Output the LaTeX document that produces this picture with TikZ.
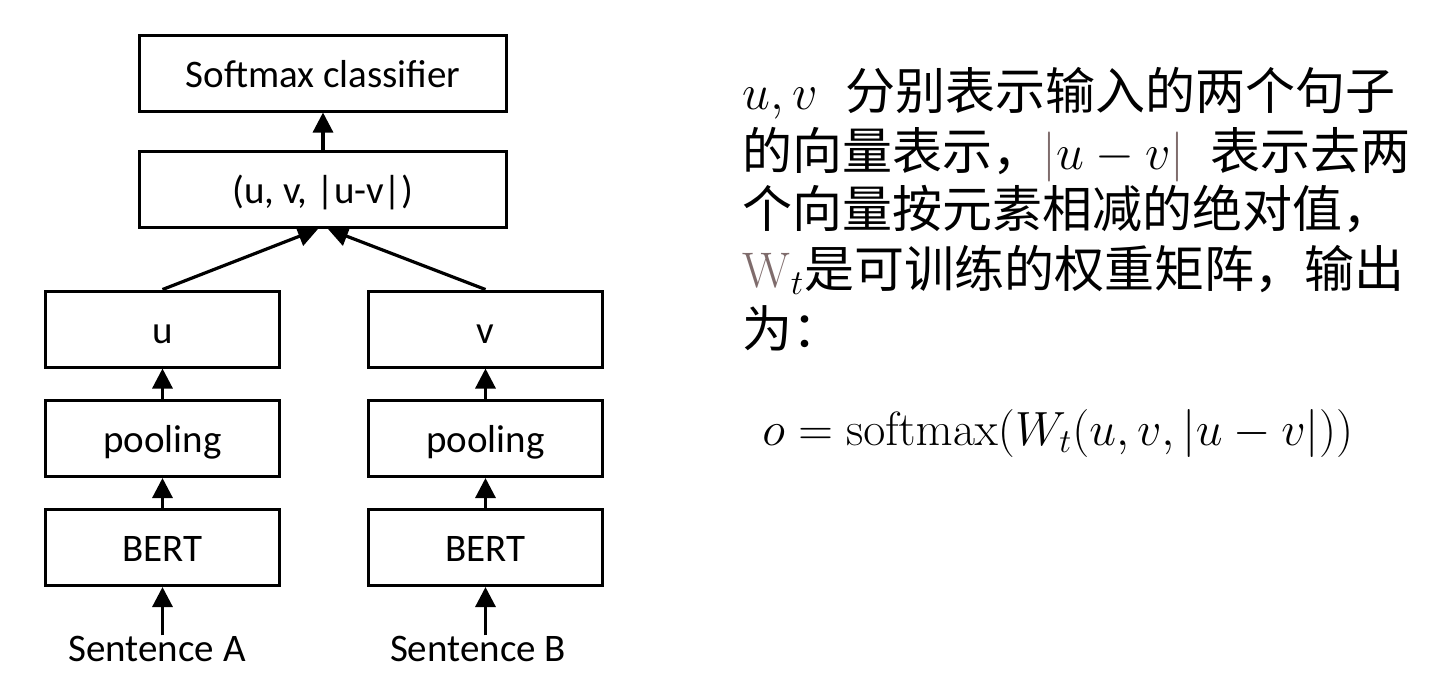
\RequirePackage{fix-cm}
\documentclass[tikz,border=0pt]{standalone}
\usepackage[no-math]{fontspec}
\setmainfont{Carlito}
\newfontfamily\cjk{Noto Sans CJK SC}
\usetikzlibrary{arrows.meta,calc}
\definecolor{ubrown}{RGB}{127,108,108}
\begin{document}
\begin{tikzpicture}[x=0.5pt,y=-0.5pt,
  box/.style={draw, line width=1.5pt, minimum width=117pt, minimum height=38pt, inner sep=0pt,
    font=\fontsize{19.5}{24}\selectfont, text height=14pt, text depth=0pt},
  wide/.style={box, minimum width=183.5pt},
  arr/.style={-{Triangle[length=10pt,width=10pt]}, line width=1.6pt},
  lbl/.style={font=\fontsize{19.5}{24}\selectfont, inner sep=0pt},
  cn/.style={anchor=base west, inner sep=0pt, font=\cjk\fontsize{25}{30}\selectfont}]
\useasboundingbox (0,0) rectangle (1437,693);
% boxes
\node[wide] (soft) at (323,73) {Softmax classifier};
\node[wide] (cat) at (323,189.5) {(u, v, |u-v|)};
\node[box] (u) at (162.5,329) {u};
\node[box] (v) at (485.5,329) {v};
\node[box] (pa) at (162.5,438.5) {pooling};
\node[box] (pb) at (485.5,438.5) {pooling};
\node[box] (ba) at (162.5,547.5) {BERT};
\node[box] (bb) at (485.5,547.5) {BERT};
\node[lbl, anchor=base] (sa) at (157,661) {Sentence A};
\node[lbl, anchor=base] (sb) at (478,661) {Sentence B};
% arrows
\draw[arr] (cat.north) -- (soft.south);
\draw[arr] (u.north) -- ($(cat.south)+(-5,0)$);
\draw[arr] (v.north) -- ($(cat.south)+(5,0)$);
\draw[arr] (pa.north) -- (u.south);
\draw[arr] (pb.north) -- (v.south);
\draw[arr] (ba.north) -- (pa.south);
\draw[arr] (bb.north) -- (pb.south);
\draw[arr] (ba.south |- sa.north) -- (ba.south);
\draw[arr] (bb.south |- sb.north) -- (bb.south);
% right text
\node[cn] (l1) at (742,109) {$u, v$\hspace{14pt}分别表示输入的两个句子};
\node[cn] (l2) at (742,169) {的向量表示，$\textcolor{ubrown}{|}u-v\textcolor{ubrown}{|}$\hspace{13pt}表示去两};
\node[cn] (l3) at (742,227) {个向量按元素相减的绝对值，};
\node[cn] (l4) at (742,287) {$\textcolor{ubrown}{\mathrm{W}}_{t}$是可训练的权重矩阵，输出};
\node[cn] (l5) at (742,347) {为：};
\node[anchor=base west, inner sep=0pt, font=\fontsize{24}{29}\selectfont] (eq) at (762,445)
  {$o=\mathrm{softmax}(W_t(u,v,|u-v|))$};
\end{tikzpicture}
\end{document}
